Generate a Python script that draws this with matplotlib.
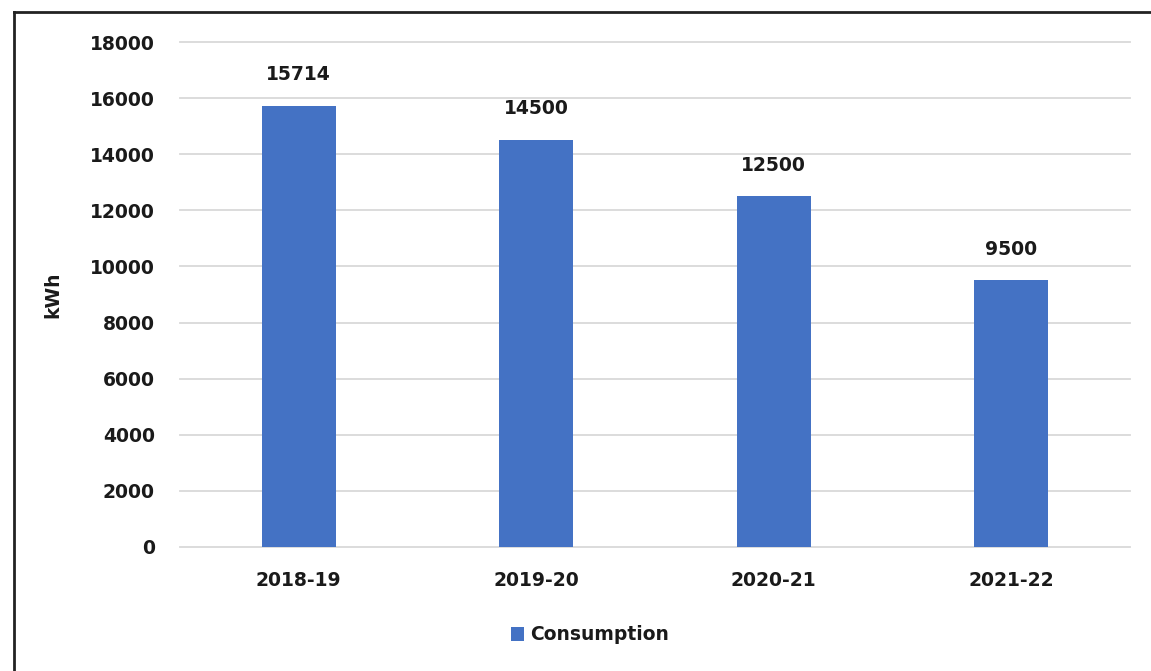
import matplotlib
matplotlib.use("Agg")
import matplotlib.pyplot as plt
from matplotlib.lines import Line2D

categories = ["2018-19", "2019-20", "2020-21", "2021-22"]
consumption = [15714, 14500, 12500, 9500]
yticks = [0, 2000, 4000, 6000, 8000, 10000, 12000, 14000, 16000, 18000]

plt.rcParams['font.family'] = ['DejaVu Sans']

FS = 13.5
TXT = "#1a1a1a"

fig = plt.figure(figsize=(11.51, 6.71), dpi=100)
ax = fig.add_axes([180/1151, 1-547/671, 950/1151, 505/671])

color = "#4472C4"
x = list(range(len(categories)))
bars = ax.bar(x, consumption, width=0.31, color=color, label="Consumption", zorder=3)
for xi, v in zip(x, consumption):
    ax.annotate(str(v), (xi, v), xytext=(0, 22.5), textcoords="offset points",
                ha="center", va="center", fontsize=FS, fontweight="bold", color=TXT)

ax.set_xlim(-0.5, len(categories) - 0.5)
ax.set_ylim(0, 18000)
ax.set_yticks(yticks)
ax.set_yticklabels([str(t) for t in yticks], fontsize=FS, fontweight="bold", color=TXT)
ax.set_xticks(x)
ax.set_xticklabels(categories, fontsize=FS, fontweight="bold", color=TXT)
ax.tick_params(axis="both", length=0)
ax.tick_params(axis="y", pad=18)
ax.tick_params(axis="x", pad=17)
ax.grid(axis="y", color="#d9d9d9", linewidth=1.3, zorder=0)
for gl in ax.get_ygridlines():
    gl.set_clip_on(False)
for s in ax.spines.values():
    s.set_visible(False)
ax.set_ylabel("kWh", fontsize=FS, fontweight="bold", color=TXT)
ax.yaxis.set_label_coords(-118/950, 0.5)

leg = fig.legend(handles=[bars], labels=["Consumption"], loc="center",
                 bbox_to_anchor=(590/1151, 1-635/671), frameon=False,
                 prop={"size": FS, "weight": "bold"}, handlelength=0.7,
                 handleheight=0.7, handletextpad=0.3)
for t in leg.get_texts():
    t.set_color(TXT)

fig.add_artist(Line2D([14/1151, 14/1151], [1-12/671, 0], transform=fig.transFigure,
                      color="#222222", linewidth=2))
fig.add_artist(Line2D([14/1151, 1], [1-12/671, 1-12/671], transform=fig.transFigure,
                      color="#222222", linewidth=2))

fig.savefig("out.png", dpi=100)
